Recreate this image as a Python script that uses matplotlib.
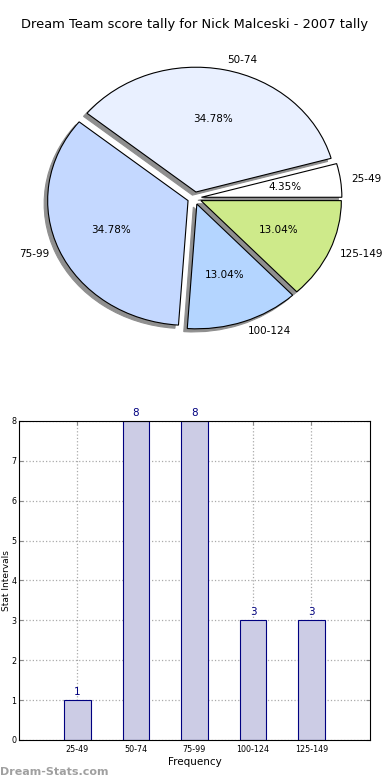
import matplotlib
matplotlib.use('Agg')
import matplotlib.pyplot as plt
import numpy as np

categories = ['25-49', '50-74', '75-99', '100-124', '125-149']
counts = [1, 8, 8, 3, 3]
pie_colors = ['#ffffff', '#e9f0ff', '#c4d8ff', '#b4d5ff', '#ceea8a']
title = 'Dream Team score tally for Nick Malceski - 2007 tally'

fig = plt.figure(figsize=(3.9, 7.8), dpi=100)

# pie on top
ax1 = fig.add_axes([0.0487, 0.546, 0.9, 0.40])
wedges, texts, autotexts = ax1.pie(
    counts, labels=categories, colors=pie_colors, explode=[0.05] * len(counts),
    autopct='%1.2f%%', startangle=0, labeldistance=1.08,
    shadow={'ox': -0.018, 'oy': -0.018, 'facecolor': '#8f8f8f',
            'edgecolor': '#8f8f8f', 'alpha': 1},
    wedgeprops={'edgecolor': 'black', 'linewidth': 0.8},
    textprops={'fontsize': 7.5})
ax1.set_aspect('auto')
ax1.set_xlim(-1.25, 1.25)
ax1.set_ylim(-1.25, 1.25)
ax1.set_title(title, fontsize=9.4, pad=10)

# bars below
ax2 = fig.add_axes([0.0487, 0.0513, 0.9, 0.409])
x = np.arange(len(categories))
ax2.bar(x, counts, width=0.45, color='#ccccE5', edgecolor='navy',
        linewidth=0.8, zorder=2)
for xi, v in zip(x, counts):
    ax2.text(xi, v + 0.08, str(v), ha='center', va='bottom',
             color='navy', fontsize=7.5)
ax2.set_xlim(-1, len(categories))
ax2.set_ylim(0, 8)
ax2.set_xticks(x)
ax2.set_xticklabels(categories, fontsize=5.8)
ax2.set_yticks(range(0, 9))
ax2.tick_params(axis='y', labelsize=5.8, pad=2)
ax2.tick_params(direction='in', length=3, color='#888888', right=True, top=True)
ax2.grid(True, linestyle=':', color='#aaaaaa', linewidth=0.9, zorder=0)
ax2.set_axisbelow(True)
ax2.set_xlabel('Frequency', fontsize=7.5, labelpad=2)
ax2.set_ylabel('Stat Intervals', fontsize=6.5)
ax2.yaxis.set_label_coords(-0.022, 0.5)
for s in ax2.spines.values():
    s.set_linewidth(0.8)

fig.text(0.0, 0.004, 'Dream-Stats.com', fontsize=8, fontweight='bold',
         color='#a0a0a0', ha='left', va='bottom')

fig.savefig('out.png', dpi=100)
